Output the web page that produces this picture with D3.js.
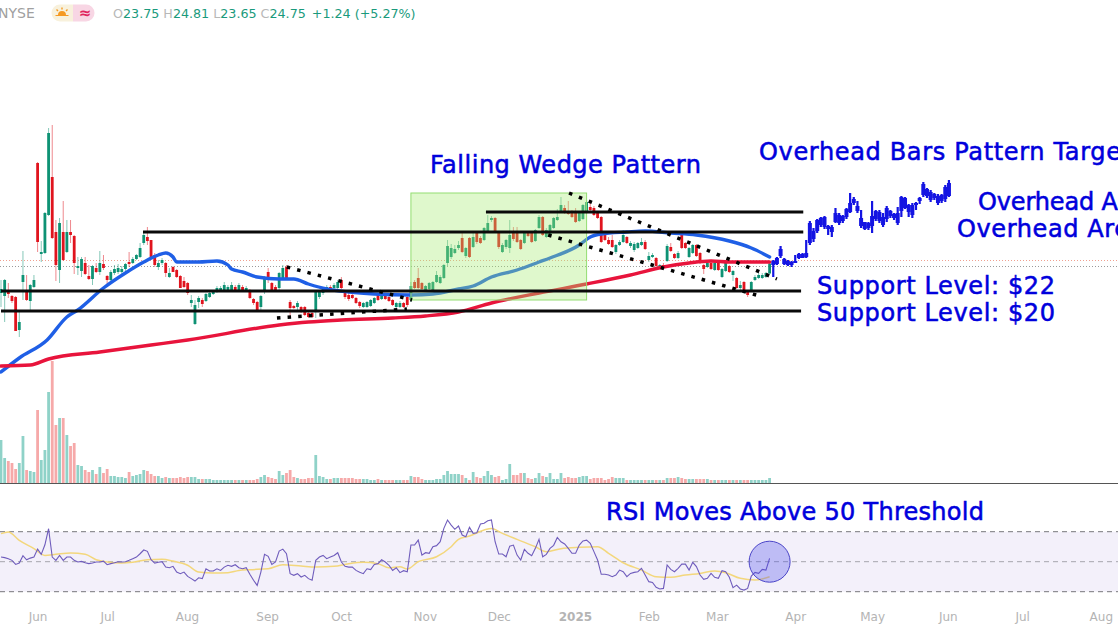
<!DOCTYPE html>
<html><head><meta charset="utf-8">
<script src="https://cdnjs.cloudflare.com/ajax/libs/d3/7.9.0/d3.min.js"></script>
<style>html,body{margin:0;padding:0;background:#fff;overflow:hidden}svg{display:block}</style>
</head><body><svg id="c" width="1118" height="628"></svg>
<script>
const opens=[21.8,21.5,22.0,21.5,21.4,18.1,22.9,21.9,21.0,22.4,
34.8,25.7,25.8,29.6,33.4,27.9,24.1,27.9,25.9,27.9,
27.5,24.3,24.0,24.8,23.5,23.2,24.3,23.9,24.7,23.5,
23.1,23.8,23.9,23.9,24.2,24.9,24.8,25.2,25.4,26.8,
27.4,27.1,25.6,24.4,24.8,24.8,23.4,24.4,24.1,23.5,
23.0,22.8,20.8,18.7,20.9,21.1,21.0,21.4,21.7,21.9,
22.0,22.1,22.1,22.1,22.4,22.1,22.4,22.0,22.0,21.2,
20.9,20.4,21.9,23.9,22.8,22.4,22.3,23.2,24.4,20.9,
20.5,20.4,20.4,20.4,19.8,19.8,20.1,21.4,21.8,22.1,
22.4,22.3,22.3,23.1,21.8,21.6,21.6,21.3,20.9,20.4,
20.4,20.5,20.8,21.6,21.2,21.6,21.4,21.1,20.4,20.4,
20.8,21.4,21.1,22.9,23.3,22.8,22.1,22.2,22.1,22.9,
22.8,23.3,24.8,25.4,25.8,26.3,27.3,25.5,27.3,26.4,
27.8,27.3,27.1,27.9,29.1,29.3,27.8,25.9,26.4,26.3,
27.8,27.8,27.1,26.8,27.9,27.8,27.0,28.3,29.4,27.4,
27.6,28.3,29.1,29.9,30.3,30.0,29.9,29.9,29.0,29.2,
29.9,30.4,30.3,29.8,29.4,27.6,27.1,27.1,25.9,26.6,
26.9,27.4,26.5,26.1,26.3,26.6,26.9,25.1,25.4,25.3,
24.3,24.6,25.0,26.4,25.7,25.3,27.7,26.8,25.4,25.8,
26.6,25.8,24.6,24.4,24.8,24.1,24.8,23.4,24.0,24.5,
23.6,23.3,22.3,22.9,21.9,22.1,23.1,23.3,23.3,23.4,23.75];
const closes=[22.2,23.1,21.7,21.0,18.0,18.9,23.6,21.1,22.6,23.1,
26.9,25.9,29.8,37.8,27.3,24.6,28.8,25.1,27.9,27.6,
24.8,24.5,25.2,23.7,23.2,24.5,23.9,24.8,24.3,23.1,
23.9,24.2,24.3,24.2,24.7,24.7,25.2,25.6,26.3,27.6,
27.0,25.4,24.6,24.8,25.1,23.8,23.8,23.9,23.4,22.3,
22.4,21.8,21.1,20.6,21.3,20.7,21.7,21.8,21.9,22.3,
22.3,22.6,22.4,22.6,22.1,22.6,22.1,22.3,21.3,20.8,
20.1,21.5,23.3,23.1,22.1,22.0,23.8,24.3,23.2,20.3,
20.3,20.8,19.9,19.6,19.4,19.4,21.9,21.9,22.3,22.4,
22.1,22.6,22.9,22.3,21.4,21.2,21.3,20.8,20.5,20.8,
20.9,21.1,21.3,21.1,21.6,21.2,21.0,20.6,20.8,20.8,
20.4,20.6,22.5,22.3,22.3,22.2,22.5,22.8,22.9,23.6,
23.4,24.6,26.5,26.3,26.2,26.6,25.9,26.3,25.4,27.4,
26.9,26.8,28.3,28.8,29.3,27.9,26.4,26.6,27.1,27.6,
27.2,26.9,26.2,27.9,27.5,26.9,28.1,29.4,27.6,28.1,
28.6,29.3,29.4,30.6,29.8,29.7,29.4,28.9,29.8,30.6,
30.9,30.1,29.6,29.3,26.9,27.1,26.7,26.4,26.6,26.9,
27.6,26.8,26.8,26.7,26.8,26.9,26.2,25.5,25.6,24.5,
24.6,24.3,26.5,26.0,25.3,25.8,26.3,26.3,26.3,26.6,
25.5,24.8,24.2,24.8,24.2,24.8,24.1,24.2,24.8,23.9,
24.0,22.3,22.6,22.1,21.6,22.9,23.4,23.6,23.6,23.8,24.75];
const highs=[23.1,23.2,22.8,21.6,21.5,19.9,26.0,23.6,22.7,23.6,
34.9,27.0,29.9,38.3,38.6,29.1,29.3,31.0,29.1,29.1,
27.6,25.4,25.4,25.4,24.6,24.6,24.8,26.0,25.6,23.6,
24.1,24.6,24.7,24.5,24.8,25.9,25.4,25.7,26.8,27.8,
28.4,27.1,25.8,25.1,25.3,24.9,24.3,24.5,24.2,23.6,
23.4,22.9,21.6,21.1,21.5,21.3,21.8,22.0,22.1,22.5,
22.5,22.9,22.6,22.9,22.6,22.8,22.6,22.5,22.2,21.3,
21.0,21.6,23.5,24.3,22.9,22.6,23.9,24.6,24.6,21.1,
20.6,21.0,20.5,20.5,19.9,19.9,22.0,22.1,22.4,22.6,
22.6,22.8,23.1,23.4,22.0,21.8,21.7,21.4,21.0,20.9,
21.0,21.2,21.4,21.7,21.8,21.7,21.5,21.2,20.9,21.0,
20.9,21.5,22.9,23.1,24.3,22.9,22.6,22.9,23.0,24.0,
23.6,24.7,27.1,26.7,26.6,27.0,27.8,26.4,27.4,28.0,
28.0,27.5,28.4,29.6,29.5,29.4,27.9,26.8,27.2,29.1,
28.4,28.4,27.2,28.0,28.0,27.9,28.2,29.6,29.5,28.3,
28.7,29.4,30.2,31.4,30.6,31.0,30.1,30.3,30.0,30.7,
31.1,30.8,30.5,29.9,29.5,27.7,27.4,27.6,26.7,27.1,
28.1,27.5,27.0,26.9,26.9,27.3,27.1,25.9,25.8,25.4,
24.7,24.8,26.7,26.8,25.8,26.0,27.8,26.9,26.4,26.7,
26.7,25.9,24.7,24.9,24.9,24.9,24.9,24.3,25.0,24.6,
24.1,23.4,23.0,23.0,22.0,23.0,23.6,23.8,23.8,23.9,24.81];
const lows=[20.4,18.9,21.3,20.8,18.0,17.4,21.1,21.0,20.1,22.3,
25.9,24.9,25.7,29.5,27.2,23.0,22.8,25.0,25.8,26.8,
23.7,23.6,23.4,23.6,23.1,22.6,23.8,23.6,24.1,22.4,
22.8,23.6,23.7,23.7,24.0,24.4,24.7,25.1,25.3,26.6,
26.6,25.3,24.4,24.1,24.6,23.4,23.3,23.9,23.3,22.3,
22.3,21.6,20.4,18.6,20.3,20.4,20.9,21.3,21.6,21.8,
21.9,21.9,22.0,22.0,22.0,22.0,22.0,21.9,21.2,20.6,
20.0,20.1,21.7,22.8,22.0,21.9,22.1,23.1,23.1,19.3,
20.2,20.1,19.8,19.5,19.3,19.3,19.3,21.2,21.6,22.0,
22.0,22.2,22.2,22.2,21.2,21.0,21.2,20.7,20.3,20.3,
20.3,20.4,20.7,21.0,21.1,21.1,20.9,20.5,20.3,20.3,
20.3,20.4,20.9,22.2,22.2,22.1,22.0,22.1,22.0,22.8,
22.7,23.2,24.5,25.2,25.7,26.1,25.8,25.3,25.3,26.3,
26.7,26.7,27.0,27.8,28.9,27.8,26.2,25.8,26.2,25.8,
27.0,26.8,26.1,26.7,27.4,26.8,26.9,28.2,27.5,27.3,
27.5,28.2,29.0,29.8,29.7,29.6,29.3,28.8,28.9,29.1,
29.7,30.0,29.5,29.2,26.8,27.0,26.6,26.3,25.7,26.5,
26.8,26.7,26.3,25.9,26.2,26.5,26.1,24.9,25.3,24.4,
24.2,24.2,24.9,25.9,25.2,25.2,26.2,26.2,25.3,25.7,
25.4,24.7,23.7,24.3,24.1,24.0,24.0,23.3,23.9,23.8,
23.0,22.2,22.0,22.0,21.4,22.0,23.0,23.2,23.2,23.3,23.65];
const volumes=[43,25,22,20,14,20,47,13,12,11,
73,23,33,91,122,58,65,65,48,37,
40,18,17,13,11,13,9,16,10,14,
7,7,6,6,5,11,7,8,9,13,
12,9,7,7,5,6,5,5,5,6,
5,6,6,6,4,4,4,4,3,3,
3,3,3,3,3,3,3,3,3,3,
4,6,8,6,5,4,12,8,10,13,
6,5,4,4,5,5,28,7,6,4,
4,5,5,5,5,5,5,4,4,4,
4,3,3,4,3,3,3,3,3,3,
3,3,7,6,6,4,3,3,3,4,
4,8,12,9,9,9,8,5,3,11,
6,5,7,12,8,6,7,3,4,19,
8,8,10,10,5,4,5,10,7,6,
10,4,4,10,5,6,5,5,6,7,
7,4,5,5,5,3,4,6,5,5,
5,3,3,3,3,3,3,3,3,3,
3,3,5,5,5,6,5,4,4,4,
4,4,4,4,3,3,3,3,3,3,
3,3,3,3,3,3,3,3,3,3,5];
const rsi=[53.1,52.7,52,50.9,48.2,49.1,54,51.3,52.4,53.1,
58.4,54.9,61.3,72,53.1,50.9,54.2,50.9,53.1,53.1,
50.9,49.8,50.2,49.3,48.7,49.1,49.8,49.8,50.4,48,
48.7,49.3,50,49.8,50,50.9,52,53.1,55.3,57.8,
56.9,51.3,49.1,49.6,50,46.4,46,46.9,43.1,42,
43.1,40.2,38.7,37.1,39.3,38.7,45.3,43.8,43.8,45.3,
44.2,46.4,47.6,46.9,48,46,45.3,46,41.6,37.6,
34.2,43.1,54.9,53.6,48.2,49.8,57.1,58.4,55.3,42,
40.9,42,39.8,40.9,38.7,37.6,50.9,53.1,54.2,52,
53.1,54.2,56,49.8,46.9,46.4,46.4,44.2,42.9,42,
45.3,44.7,48.2,48.7,51.3,49.8,47.6,44.2,46,42.7,
44,43.3,61.1,61.1,64.4,54.4,56,55.6,60,60.7,
63.3,72.2,77.8,74.4,71.6,73.8,67.8,66.7,72.9,68.9,
69.3,75.1,75.6,77.3,77.8,63.3,55.1,55.1,53.3,60.4,
61.1,54.4,51.1,58.2,55.6,54,58.9,64.9,53.3,54.9,
58.9,60.9,66.2,63.3,61.8,58.9,55.6,55.6,61.1,63.8,
64.4,62.2,56.7,51.1,41.6,41.6,41.1,40,41.1,44.4,
43.3,40,42.2,42.9,43.3,45.6,41.1,36.7,36.2,32.9,
31.8,32.2,47.8,44.9,43.3,45.6,48.4,48.4,44.4,49.6,
46.7,41.1,38.2,38.9,42.2,39.6,38.9,44,43.3,39.6,
32.7,34.4,31.8,31.1,32.2,40.4,42.9,42.2,44.9,44.4,52.2];
const rsiMaIdx=[0,2,5,9,12,15,19,23,26,29,33,36,40,44,47,51,54,58,62,65,68,73,77,82,86,91,95,99,103,106,109,111,114,119,123,125,128,132,134,137,141,146,149,153,158,163,166,170,175,179,183,187,191,195,198,202,206,210];
const rsiMaVals=[68.7,69.8,64.2,58.7,54.2,54.9,55.8,54.9,51.3,49.8,49.1,49.6,51.3,51.6,50.4,47.6,43.1,42.4,42.7,44.2,44.7,45.3,48,47.1,46.4,46.9,48.7,49.6,48.7,46,46.7,45.1,50,53.3,60,64.9,67.1,71.1,72.2,68.9,64.9,60,56.7,58.7,59.6,60,55.6,49.3,44.4,40,39.6,41.1,42.2,43.8,42.7,38.9,37.8,40];
const ma50Idx=[0,5,12.6,18,21,28,34,39,43,45,47,48,54,59,62,63,66,70,76,80,84,89,95,102,112,118,125,129,134,141,147,150,158,161,164,171,176,183,190,199,205,210];
const ma50Vals=[13.9,15.3,17.1,19.4,20.1,22.3,23.8,24.9,25.6,25.8,25.4,24.9,24.9,25.0,24.6,24.2,23.9,23.4,23.2,23.2,22.7,22.2,21.9,21.7,21.6,21.7,22.2,22.5,23.4,24.1,24.9,25.3,26.6,27.4,27.7,27.9,28.0,27.8,27.6,27.0,26.3,25.4];
const ma200Idx=[0,8,13,27,41,51,76,84,93,107,116,125,134,147,160,172,181,188,194,199,210];
const ma200Vals=[14.5,14.6,15.2,15.9,16.6,17.1,18.6,18.9,19.1,19.3,19.5,19.9,20.8,21.8,22.7,23.6,24.4,24.8,25.0,24.9,24.9];
const forecastHighs=[25.1,25.4,26.5,25.3,25.1,25.0,25.6,25.8,25.8,27.1,29.0,28.3,29.2,29.4,29.5,28.6,28.6,30.3,29.8,29.6,30.3,31.8,31.4,31.0,30.1,28.9,28.9,31.0,30.1,30.1,29.8,30.5,30.1,29.8,30.4,31.5,31.4,30.7,30.8,30.9,31.4,32.9,32.3,32.1,31.8,31.7,31.7,32.6,33.1];
const forecastLows=[23.4,24.6,25.3,24.6,24.5,24.4,24.8,25.2,25.3,25.3,26.6,26.9,27.8,28.4,28.2,27.6,27.4,28.8,28.6,28.8,29.2,29.8,30.6,29.8,28.3,28.1,28.1,27.8,29.0,28.8,28.4,28.9,29.3,29.1,28.6,29.4,30.2,29.4,29.3,30.1,30.7,31.4,31.3,30.9,31.1,30.6,30.8,30.9,31.4];
const forecastTops=[25.0,25.3,26.2,25.2,25.0,24.9,25.0,25.7,25.7,25.8,28.8,28.0,29.1,29.3,29.4,28.5,28.4,29.8,29.6,29.5,30.2,30.8,31.2,30.5,29.3,28.9,28.8,29.5,30.0,29.9,29.4,30.3,30.0,29.7,29.8,31.4,31.3,30.6,30.6,30.8,31.3,32.7,32.2,31.9,31.7,31.5,31.6,32.4,32.8];
const forecastBottoms=[24.6,24.7,25.5,24.7,24.6,24.6,24.8,25.3,25.3,25.4,26.8,27.2,28.0,28.6,28.4,28.2,27.9,28.9,28.8,29.0,29.4,29.9,30.8,30.0,28.5,28.2,28.3,28.5,29.2,29.0,28.6,29.2,29.5,29.3,28.8,30.0,30.3,29.9,29.6,30.6,31.0,31.6,31.5,31.1,31.3,30.8,31.0,31.2,31.5];
const tickIdx=[10,29,50.8,72.7,92.9,115.8,136,156.8,177,195.6,217,238,258.7,279,300.5];
const tickLabels=["Jun","Jul","Aug","Sep","Oct","Nov","Dec","2025","Feb","Mar","Apr","May","Jun","Jul","Aug"];
const levelStart=[38.8,132.5,0,0];
const levelEnd=[219.2,219.2,218.6,218.6];
const levelPrice=[27.9,29.9,22,20];
const wedgeLines=[[75.4,19.3,110.9,20.2],[78.1,24.4,112.3,21.1],[155.2,31.8,212,23.2],[149.5,27.6,208.2,21.4]];
const headerLabels=["O","H","L","C"];
const headerValues=["23.75","24.81","23.65","24.75"];

const svg=d3.select("#c");
const x=d3.scaleLinear().domain([0,300.5]).range([1,1+3.66*300.5]);
const y=d3.scaleLinear().domain([0,51.1]).range([511,0]);
const yVol=d3.scaleLinear().domain([0,122]).range([483,361]);
const yRsi=d3.scaleLinear().domain([30,70]).range([591.7,531.7]);
const GREEN="#0e9274",RED="#e0141e",BLUE="#1414e2",TXT="#0000dc";
const FONT="'DejaVu Sans',sans-serif";
const N=opens.length;
const idx=d3.range(N);

// volume
svg.append("g").selectAll("rect").data(idx).join("rect")
 .attr("x",i=>x(i)-1.4).attr("width",2.8)
 .attr("y",i=>yVol(volumes[i])).attr("height",i=>yVol(0)-yVol(volumes[i]))
 .attr("fill",i=>closes[i]>=opens[i]?"#8fd2c8":"#f6a9a9");
svg.append("line").attr("x1",0).attr("x2",1118).attr("y1",483.5).attr("y2",483.5).attr("stroke","#555").attr("stroke-width",1);

// RSI panel
svg.append("rect").attr("x",0).attr("width",1118).attr("y",yRsi(70)).attr("height",yRsi(30)-yRsi(70)).attr("fill","#f3f0fa");
svg.append("g").selectAll("line").data([70,50,30]).join("line")
 .attr("x1",0).attr("x2",1118).attr("y1",d=>yRsi(d)).attr("y2",d=>yRsi(d))
 .attr("stroke",(d,i)=>i==1?"#a6a6ad":"#77777c").attr("stroke-width",1).attr("stroke-dasharray","5 4");
svg.append("path").attr("d",d3.line().x(i=>x(rsiMaIdx[i])).y(i=>yRsi(rsiMaVals[i])).curve(d3.curveMonotoneX)(d3.range(rsiMaIdx.length)))
 .attr("fill","none").attr("stroke","#f3d77c").attr("stroke-width",1.5);
svg.append("path").attr("d",d3.line().x(i=>x(i)).y(i=>yRsi(rsi[i]))(idx))
 .attr("fill","none").attr("stroke","#6f5cbc").attr("stroke-width",1.1);
svg.append("circle").attr("cx",x(210)).attr("cy",yRsi(50)).attr("r",20.5)
 .attr("fill","rgba(70,70,235,0.3)").attr("stroke","#4a44c8").attr("stroke-width",1);

// dotted price lines
svg.append("line").attr("x1",0).attr("x2",1118).attr("y1",260.5).attr("y2",260.5).attr("stroke","#f0a090").attr("stroke-width",1).attr("stroke-dasharray","1 2");
svg.append("line").attr("x1",0).attr("x2",1118).attr("y1",266.5).attr("y2",266.5).attr("stroke","#9a9a9a").attr("stroke-width",1).attr("stroke-dasharray","1 2");

// candles
const c=svg.append("g");
c.selectAll("line").data(idx).join("line")
 .attr("x1",i=>x(i)).attr("x2",i=>x(i)).attr("y1",i=>y(highs[i])).attr("y2",i=>y(lows[i]))
 .attr("stroke",i=>closes[i]>=opens[i]?GREEN:RED).attr("stroke-width",1).attr("stroke-opacity",.5);
c.selectAll("rect").data(idx).join("rect")
 .attr("x",i=>x(i)-1.4).attr("width",2.8)
 .attr("y",i=>y(Math.max(opens[i],closes[i])))
 .attr("height",i=>Math.max(1,Math.abs(y(opens[i])-y(closes[i]))))
 .attr("fill",i=>closes[i]>=opens[i]?GREEN:RED);

// forecast bars
const f=svg.append("g");
const fi=d3.range(forecastHighs.length);
f.selectAll("line").data(fi).join("line")
 .attr("x1",i=>x(N+i)).attr("x2",i=>x(N+i)).attr("y1",i=>y(forecastHighs[i])).attr("y2",i=>y(forecastLows[i]))
 .attr("stroke",BLUE).attr("stroke-width",2.2);
f.selectAll("rect").data(fi).join("rect")
 .attr("x",i=>x(N+i)-2).attr("width",4)
 .attr("y",i=>y(forecastTops[i])).attr("height",i=>y(forecastBottoms[i])-y(forecastTops[i]))
 .attr("fill",BLUE);

// moving averages
const maLine=(ix,vals,col)=>svg.append("path")
 .attr("d",d3.line().x(i=>x(ix[i])).y(i=>y(vals[i])).curve(d3.curveMonotoneX)(d3.range(ix.length)))
 .attr("fill","none").attr("stroke",col).attr("stroke-width",3.4).attr("stroke-linecap","round");
maLine(ma50Idx,ma50Vals,"#1f5fe6");
maLine(ma200Idx,ma200Vals,"#e8143c");

// green wedge box
svg.append("rect").attr("x",x(112)).attr("width",x(160)-x(112)).attr("y",y(31.8)).attr("height",y(21.1)-y(31.8))
 .attr("fill","rgba(165,235,115,0.36)").attr("stroke","#93dd72").attr("stroke-width",1);

// support/resistance
svg.append("g").selectAll("line").data(levelPrice).join("line")
 .attr("x1",(d,i)=>x(levelStart[i])).attr("x2",(d,i)=>x(levelEnd[i])).attr("y1",d=>y(d)).attr("y2",d=>y(d))
 .attr("stroke","#0a0a0a").attr("stroke-width",3);

// wedge dots
svg.append("g").selectAll("line").data(wedgeLines).join("line")
 .attr("x1",d=>x(d[0])).attr("y1",d=>y(d[1])).attr("x2",d=>x(d[2])).attr("y2",d=>y(d[3]))
 .attr("stroke","#000").attr("stroke-width",3.5).attr("stroke-dasharray","3.5 7.15");

// annotations
const ann=(t,xx,yy,size,len)=>svg.append("text").attr("x",xx).attr("y",yy).attr("font-family",FONT).attr("font-size",size)
 .attr("fill",TXT).attr("stroke",TXT).attr("stroke-width",.55).attr("textLength",len).attr("lengthAdjust","spacing").text(t);
ann("Falling Wedge Pattern",430,173,24,271);
ann("Overhead Bars Pattern Target",759,160,24,372);
ann("Overhead A",978,210,24,140);
ann("Overhead Are",957,237,24,172);
ann("Support Level: $22",817,294,24,238);
ann("Support Level: $20",817,321,24,238);
ann("RSI Moves Above 50 Threshold",606,520,24,378);

// x axis
const ax=svg.append("g").attr("transform","translate(0,606)")
 .call(d3.axisBottom(x).tickValues(tickIdx).tickSize(0).tickPadding(6).tickFormat((d,i)=>tickLabels[i]));
ax.select(".domain").remove();
ax.selectAll("text").attr("font-family",FONT).attr("font-size",12).attr("fill","#b4b4b4").attr("font-weight",(d,i)=>tickLabels[i]=="2025"?"bold":"normal");

// header
svg.append("text").attr("x",-2).attr("y",18).attr("font-family",FONT).attr("font-size",14).attr("fill","#a0a0a0").text("NYSE");
svg.append("path").attr("d","M60 4.5 H73 V21.5 H60 A8.5 8.5 0 0 1 60 4.5Z").attr("fill","#f8f1dc");
svg.append("path").attr("d","M73 4.5 H86 A8.5 8.5 0 0 1 86 21.5 H73Z").attr("fill","#f8d6e4");
svg.append("path").attr("d","M58 15 A4 4 0 0 1 66 15 L68.5 15 L68.5 16 L55.5 16 L55.5 15Z").attr("fill","#f59a23");
svg.append("path").attr("d","M62 7.5V9.5M56.5 9.5L58 11M67.5 9.5L66 11").attr("stroke","#f59a23").attr("stroke-width",1.4).attr("fill","none");
svg.append("text").attr("x",85).attr("y",18).attr("text-anchor","middle").attr("font-family",FONT).attr("font-size",15).attr("font-weight","bold").attr("fill","#e0245e").text("≈");
const hdr=svg.append("text").attr("x",113).attr("y",18).attr("font-family",FONT).attr("font-size",12.7);
headerLabels.forEach((l,i)=>{
 hdr.append("tspan").attr("fill","#b8b8b8").attr("dx",i?4:0).text(l);
 hdr.append("tspan").attr("fill","#1a9a7c").text(headerValues[i]);
});
hdr.append("tspan").attr("fill","#1a9a7c").attr("dx",6).text("+1.24 (+5.27%)");
</script></body></html>
